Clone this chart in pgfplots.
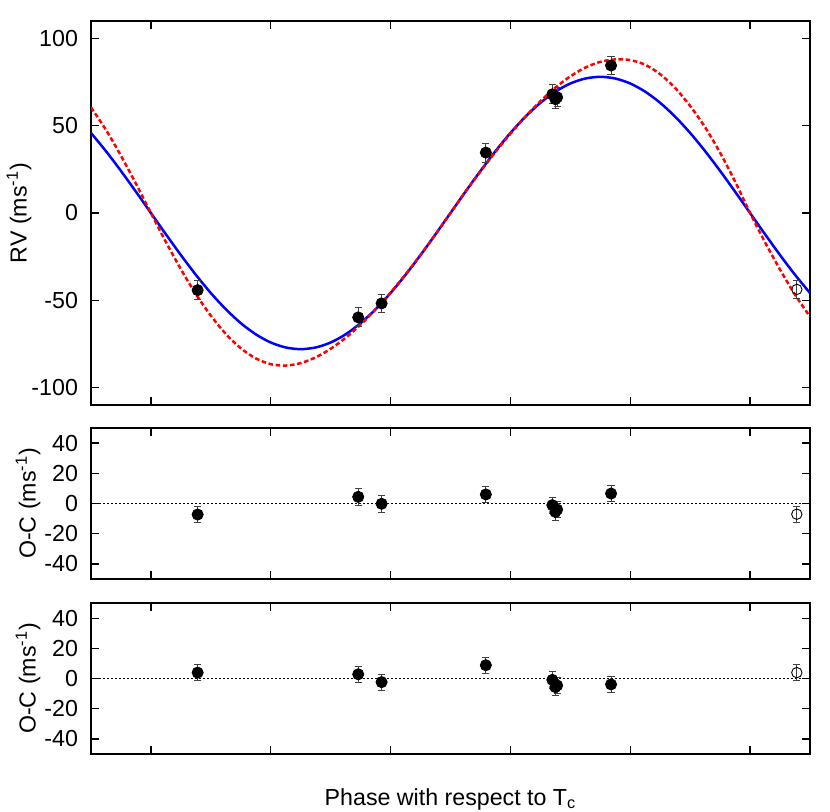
\documentclass[border=0pt]{standalone}
\usepackage{fontspec}
\setmainfont{Liberation Sans}
\usepackage{pgfplots}
\pgfplotsset{compat=1.18}
\usepackage{pgfplotstable}

\definecolor{fitblue}{HTML}{0000FF}
\definecolor{fitred}{HTML}{FF0000}

% circular fit (blue) and eccentric fit (red), phase vs RV
\pgfplotstableread{
ph rv
-0.1 45.85
-0.075 35.41
-0.05 24.10
-0.025 12.20
0 0
0.025 -12.20
0.05 -24.10
0.075 -35.41
0.1 -45.85
0.125 -55.15
0.15 -63.10
0.175 -69.50
0.2 -74.19
0.225 -77.04
0.25 -78
0.275 -77.04
0.3 -74.19
0.325 -69.50
0.35 -63.10
0.375 -55.15
0.4 -45.85
0.425 -35.41
0.45 -24.10
0.475 -12.20
0.5 0
0.525 12.20
0.55 24.10
0.575 35.41
0.6 45.85
0.625 55.15
0.65 63.10
0.675 69.50
0.7 74.19
0.725 77.04
0.75 78
0.775 77.04
0.8 74.19
0.825 69.50
0.85 63.10
0.875 55.15
0.9 45.85
0.925 35.41
0.95 24.10
0.975 12.20
1.0 0
1.025 -12.20
1.05 -24.10
1.075 -35.41
1.1 -45.85
}\circfit

\pgfplotstableread{
ph rv
-0.1 60.5
-0.075 47.6
-0.05 32.8
-0.025 16.8
0 0
0.025 -16.6
0.05 -32.2
0.075 -46.4
0.1 -58.8
0.125 -69.3
0.15 -77.5
0.175 -83.3
0.2 -86.6
0.225 -87.4
0.25 -86.0
0.275 -82.7
0.3 -77.8
0.325 -71.5
0.35 -63.9
0.375 -55.2
0.4 -45.6
0.425 -35.2
0.45 -24.0
0.475 -12.2
0.5 0
0.525 12.2
0.55 23.8
0.575 35.0
0.6 45.4
0.625 55.2
0.65 64.0
0.675 71.8
0.7 78.3
0.725 83.3
0.75 86.6
0.775 88.0
0.8 87.6
0.825 84.9
0.85 79.5
0.875 71.6
0.9 61.3
0.925 49.1
0.95 34.5
0.975 18.0
1.0 0
1.025 -16.8
1.05 -32.4
1.075 -46.8
1.1 -59.4
}\eccfit

% measurements: phase, RV, O-C (circular), O-C (eccentric), error
\pgfplotstableread{
ph rv res1 res2 err
0.078 -44.2 -7.3 3.9 5.4
0.346 -59.8 4.4 2.8 5.4
0.385 -51.8 -0.2 -2.4 5.4
0.559 34.6 6.0 8.8 5.4
0.670 68.0 -1.1 -0.9 5.4
0.675 65.2 -5.6 -5.7 5.4
0.678 66.3 -4.0 -4.6 5.4
0.768 84.5 6.6 -3.9 5.4
}\rvdata

\pgfplotstableread{
ph rv res1 res2 err
1.078 -43.8 -7.1 3.9 5.4
}\rvopen

\pgfplotsset{
  panel/.style={
    scale only axis, width=359.5pt,
    xmin=-0.1, xmax=1.1,
    xtick={0,0.2,0.4,0.6,0.8,1.0}, xticklabels={},
    tick align=inside, major tick length=4pt,
    every tick/.style={black, line width=0.6pt},
    axis line style={line width=0.6pt},
    tick label style={font=\fontsize{11.6}{13}\selectfont},
    yticklabel style={xshift=-3pt},
    label style={font=\fontsize{11.6}{13}\selectfont},
    /pgf/number format/assume math mode=true,
    clip=true,
  },
  pts/.style={only marks, mark=*, mark size=2.8pt, black,
    error bars/.cd, y dir=both, y explicit,
    error bar style={line width=0.45pt, black!75},
    error mark options={rotate=90, mark size=1.8pt, line width=0.45pt, black!75}},
  opts/.style={only marks, mark=o, mark size=2.6pt, black, mark options={line width=0.45pt},
    error bars/.cd, y dir=both, y explicit,
    error bar style={line width=0.45pt, black!75},
    error mark options={rotate=90, mark size=1.8pt, line width=0.45pt, black!75}},
}

\begin{document}
\begin{tikzpicture}
\begin{axis}[panel, at={(0pt,0pt)}, anchor=north west, height=192pt,
  ymin=-110, ymax=110, ytick={-100,-50,0,50,100},
  ylabel={RV (ms\textsuperscript{-1})},
  ylabel style={at={(axis description cs:-0.1,0.5)}, anchor=center}]
\addplot[fitblue, line width=1.25pt, smooth] table[x=ph,y=rv] {\circfit};
\addplot[fitred, line width=1.25pt, smooth, dash pattern=on 2.3pt off 1.3pt] table[x=ph,y=rv] {\eccfit};
\addplot[pts] table[x=ph,y=rv,y error=err] {\rvdata};
\addplot[opts] table[x=ph,y=rv,y error=err] {\rvopen};
\end{axis}

\begin{axis}[panel, at={(0pt,-203.5pt)}, anchor=north west, height=75.5pt,
  ymin=-50, ymax=50, ytick={-40,-20,0,20,40},
  ylabel={O-C (ms\textsuperscript{-1})},
  ylabel style={at={(axis description cs:-0.0876,0.5)}, anchor=center}]
\addplot[black, line width=0.6pt, dash pattern=on 0.9pt off 1.1pt] coordinates {(-0.1,0) (1.1,0)};
\addplot[pts] table[x=ph,y=res1,y error=err] {\rvdata};
\addplot[opts] table[x=ph,y=res1,y error=err] {\rvopen};
\end{axis}

\begin{axis}[panel, at={(0pt,-291pt)}, anchor=north west, height=75.5pt,
  ymin=-50, ymax=50, ytick={-40,-20,0,20,40},
  ylabel={O-C (ms\textsuperscript{-1})},
  ylabel style={at={(axis description cs:-0.0876,0.5)}, anchor=center},
  xlabel={Phase with respect to T\textsubscript{c}},
  xlabel style={at={(axis description cs:0.5,-0.338)}, anchor=base}]
\addplot[black, line width=0.6pt, dash pattern=on 0.9pt off 1.1pt] coordinates {(-0.1,0) (1.1,0)};
\addplot[pts] table[x=ph,y=res2,y error=err] {\rvdata};
\addplot[opts] table[x=ph,y=res2,y error=err] {\rvopen};
\end{axis}

\pgfresetboundingbox
\path[use as bounding box] (-45.5pt,10.5pt) rectangle (369.5pt,-395.5pt);
\end{tikzpicture}
\end{document}
